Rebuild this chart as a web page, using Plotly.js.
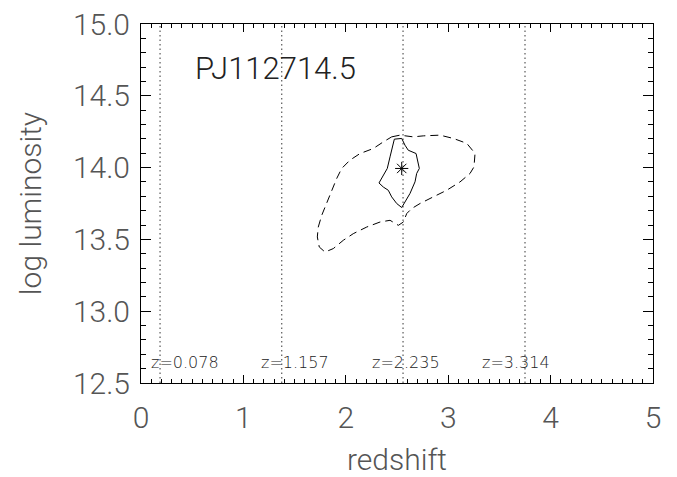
<!DOCTYPE html>
<html>
<head>
<meta charset="utf-8">
<script src="https://cdn.plot.ly/plotly-3.0.1.min.js"></script>
<style>
  html, body { margin: 0; padding: 0; background: #fff; }
  #plot { width: 677px; height: 477px; }
</style>
</head>
<body>
<div id="plot"></div>
<script>
// best-fit point
var bestZ = [2.546];
var bestL = [13.994];

// inner (solid) contour
var innerZ = [2.474, 2.546, 2.578, 2.610, 2.686, 2.698, 2.718, 2.692, 2.676, 2.627, 2.588, 2.546,
  2.497, 2.448, 2.415, 2.366, 2.324, 2.366, 2.405, 2.432, 2.458, 2.474];
var innerL = [14.198, 14.203, 14.156, 14.121, 14.098, 14.052, 13.994, 13.959, 13.901, 13.820, 13.773, 13.722,
  13.750, 13.796, 13.842, 13.865, 13.893, 13.947, 13.994, 14.075, 14.144, 14.198];

// outer (dashed) contour
var outerZ = [2.448, 2.529, 2.659, 2.757, 2.920, 3.050, 3.181, 3.262, 3.252, 3.213, 3.115, 2.985,
  2.854, 2.725, 2.644, 2.595, 2.562, 2.513, 2.432, 2.334, 2.204, 2.073, 1.976, 1.878, 1.797,
  1.741, 1.722, 1.731, 1.765, 1.813, 1.862, 1.911, 1.960, 2.041, 2.139, 2.269, 2.366, 2.448];
var outerL = [14.214, 14.226, 14.214, 14.221, 14.226, 14.203, 14.169, 14.099, 14.005, 13.959, 13.900, 13.842,
  13.796, 13.750, 13.715, 13.680, 13.621, 13.598, 13.633, 13.621, 13.586, 13.540, 13.494, 13.436, 13.412,
  13.447, 13.517, 13.586, 13.668, 13.750, 13.842, 13.924, 13.994, 14.052, 14.098, 14.133, 14.179, 14.214];

// dotted reference lines and their labels
var refLineX = [0.186, 1.374, 2.559, 3.750];
var refLabels = ['z=0.078', 'z=1.157', 'z=2.235', 'z=3.314'];
var refLabelX = [0.078, 1.157, 2.235, 3.314];

var objName = 'PJ112714.5';

var font = 'Roboto, "DejaVu Sans", sans-serif';

var data = [];
refLineX.forEach(function (x) {
  data.push({
    x: [x, x], y: [12.5, 15.0],
    mode: 'lines', type: 'scatter', hoverinfo: 'none', showlegend: false,
    line: {color: '#666', width: 1.3, dash: '1.5px,3px'}
  });
});
data.push({
  x: outerZ, y: outerL, mode: 'lines', type: 'scatter', showlegend: false,
  line: {color: '#000', width: 1, dash: '8px,5px'}
});
data.push({
  x: innerZ, y: innerL, mode: 'lines', type: 'scatter', showlegend: false,
  line: {color: '#000', width: 1}
});
data.push({
  x: bestZ, y: bestL, mode: 'markers', type: 'scatter', showlegend: false,
  marker: {symbol: 'asterisk-open', size: 11, color: '#000', line: {color: '#000', width: 1}}
});

var annotations = refLabels.map(function (t, i) {
  return {
    x: refLabelX[i], y: 12.64, xref: 'x', yref: 'y', text: t, showarrow: false,
    xanchor: 'left', yanchor: 'middle',
    font: {family: '"DejaVu Sans", sans-serif', size: 16, color: '#222'}
  };
});
annotations.push({
  x: 0.51, y: 14.69, xref: 'x', yref: 'y', text: objName, showarrow: false,
  xanchor: 'left', yanchor: 'middle',
  font: {family: font, size: 31, color: '#222', weight: 300}
});

var layout = {
  width: 677, height: 477,
  margin: {l: 141, r: 24, t: 24, b: 94},
  paper_bgcolor: '#fff', plot_bgcolor: '#fff',
  font: {family: font, color: '#555', weight: 300},
  xaxis: {
    range: [0, 5], dtick: 1, tick0: 0,
    showgrid: false, zeroline: false,
    showline: true, linecolor: '#000', linewidth: 1, mirror: 'ticks',
    ticks: 'inside', ticklen: 8, tickcolor: '#000',
    minor: {dtick: 0.1, ticks: 'inside', ticklen: 4, tickcolor: '#000'},
    ticklabelstandoff: 8,
    tickfont: {family: font, size: 30, color: '#555', weight: 300},
    title: {text: 'redshift', font: {family: font, size: 30, color: '#555', weight: 300}, standoff: 16}
  },
  yaxis: {
    range: [12.5, 15.0], dtick: 0.5, tick0: 12.5, tickformat: '.1f',
    showgrid: false, zeroline: false,
    showline: true, linecolor: '#000', linewidth: 1, mirror: 'ticks',
    ticks: 'inside', ticklen: 10, tickcolor: '#000',
    minor: {dtick: 0.1, ticks: 'inside', ticklen: 5, tickcolor: '#000'},
    ticklabelstandoff: 4,
    tickfont: {family: font, size: 30, color: '#555', weight: 300},
    title: {text: 'log luminosity', font: {family: font, size: 30, color: '#555', weight: 300}, standoff: 22}
  },
  annotations: annotations
};

Plotly.newPlot('plot', data, layout, {staticPlot: true});
</script>
</body>
</html>
